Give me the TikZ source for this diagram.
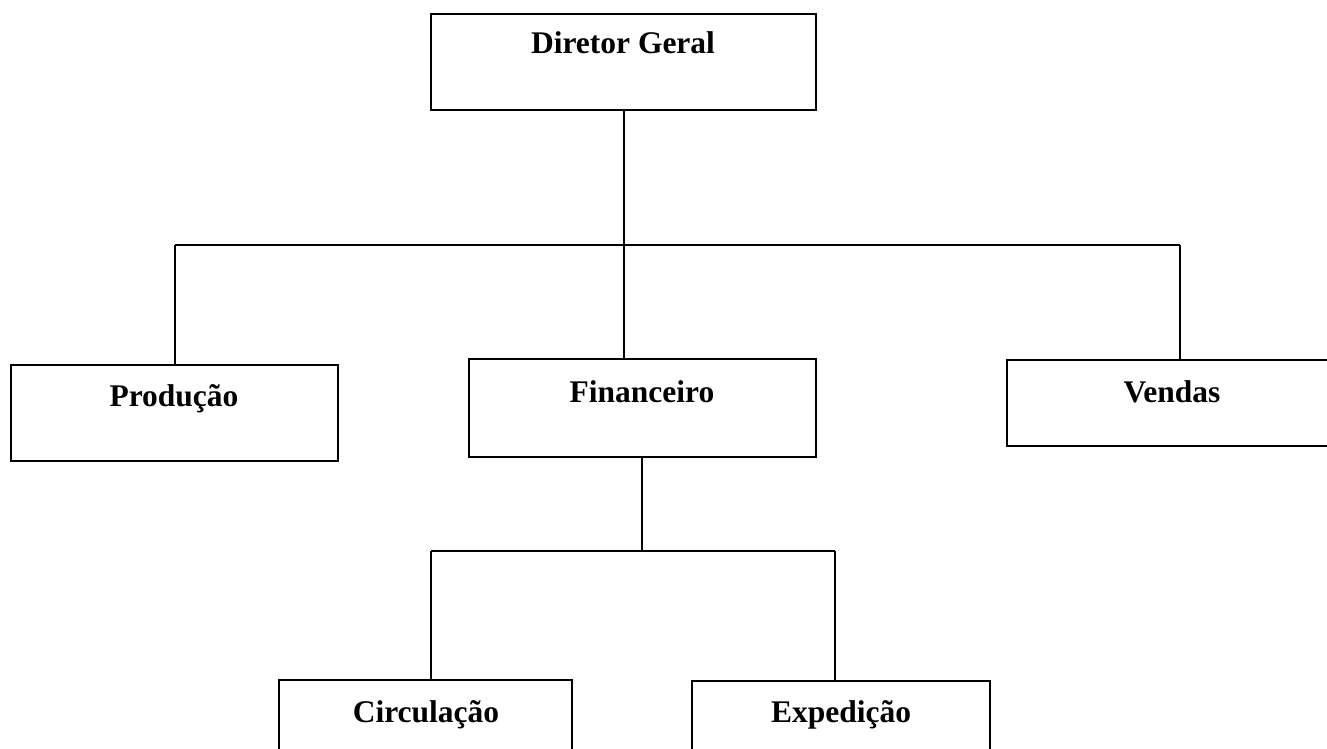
\documentclass[tikz,border=0pt]{standalone}
\usepackage{fontspec}
\setmainfont{Liberation Serif}
\begin{document}
\begin{tikzpicture}[x=1pt,y=-1pt,
  box/.style={draw=black, line width=2.2pt, rectangle, inner sep=0pt},
  lbl/.style={anchor=base, inner sep=0pt, font=\fontsize{31.5}{38}\selectfont\bfseries},
  conn/.style={draw=black, line width=2pt}]
\useasboundingbox (0,0) rectangle (1327,749);
\clip (0,0) rectangle (1327,749);
\fill[white] (0,0) rectangle (1327,749);
% boxes
\node[box, minimum width=385pt, minimum height=96pt] (dg) at (623.5,62) {};
\node[box, minimum width=327pt, minimum height=96pt] (prod) at (174.5,413) {};
\node[box, minimum width=347pt, minimum height=98pt] (fin) at (642.5,408) {};
\node[box, minimum width=385pt, minimum height=86pt] (vend) at (1199.5,403) {};
\node[box, minimum width=293pt, minimum height=96pt] (circ) at (425.5,728) {};
\node[box, minimum width=298pt, minimum height=96pt] (exp) at (841,729) {};
% labels
\node[lbl] (tdg) at (623,54) {Diretor Geral};
\node[lbl] (tprod) at (174,406) {Produção};
\node[lbl] (tfin) at (642,402) {Financeiro};
\node[lbl] (tvend) at (1172,402) {Vendas};
\node[lbl] (tcirc) at (426,722) {Circulação};
\node[lbl] (texp) at (841,722) {Expedição};
% connectors
\coordinate (b1L) at (175,245);
\coordinate (b1R) at (1180,245);
\coordinate (b2L) at (431,551);
\coordinate (b2R) at (835,551);
\coordinate (b2M) at (642,551);
\draw[conn] (dg.south) -- (dg.south |- fin.north);
\draw[conn] (b1L) -- (b1R);
\draw[conn] (b1L) -- (b1L |- prod.north);
\draw[conn] (b1R) -- (b1R |- vend.north);
\draw[conn] (b2M |- fin.south) -- (b2M);
\draw[conn] (b2L) -- (b2R);
\draw[conn] (b2L) -- (b2L |- circ.north);
\draw[conn] (b2R) -- (b2R |- exp.north);
\end{tikzpicture}
\end{document}
